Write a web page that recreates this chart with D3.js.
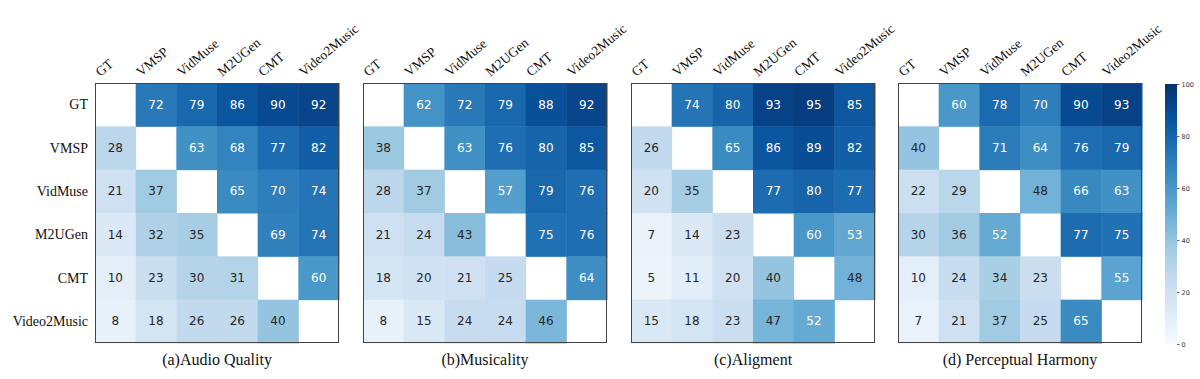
<!DOCTYPE html>
<html>
<head>
<meta charset="utf-8">
<script src="https://cdn.jsdelivr.net/npm/d3@7"></script>
<style>
  html, body { margin: 0; padding: 0; background: #fff; }
  svg { display: block; }
</style>
</head>
<body>
<svg id="chart" width="1200" height="379"></svg>
<script>
// ---- Data ----
const categories = ["GT", "VMSP", "VidMuse", "M2UGen", "CMT", "Video2Music"];
const panelTitles = ["(a)Audio Quality", "(b)Musicality", "(c)Aligment", "(d) Perceptual Harmony"];

const audioQuality = [
  [null, 72, 79, 86, 90, 92],
  [28, null, 63, 68, 77, 82],
  [21, 37, null, 65, 70, 74],
  [14, 32, 35, null, 69, 74],
  [10, 23, 30, 31, null, 60],
  [8, 18, 26, 26, 40, null]
];
const musicality = [
  [null, 62, 72, 79, 88, 92],
  [38, null, 63, 76, 80, 85],
  [28, 37, null, 57, 79, 76],
  [21, 24, 43, null, 75, 76],
  [18, 20, 21, 25, null, 64],
  [8, 15, 24, 24, 46, null]
];
const alignment = [
  [null, 74, 80, 93, 95, 85],
  [26, null, 65, 86, 89, 82],
  [20, 35, null, 77, 80, 77],
  [7, 14, 23, null, 60, 53],
  [5, 11, 20, 40, null, 48],
  [15, 18, 23, 47, 52, null]
];
const harmony = [
  [null, 60, 78, 70, 90, 93],
  [40, null, 71, 64, 76, 79],
  [22, 29, null, 48, 66, 63],
  [30, 36, 52, null, 77, 75],
  [10, 24, 34, 23, null, 55],
  [7, 21, 37, 25, 65, null]
];
const colorbarTicks = [0, 20, 40, 60, 80, 100];

const panels = [audioQuality, musicality, alignment, harmony];

// ---- Layout ----
const svg = d3.select("#chart");
const panelX = [95, 363, 631, 898];
const panelW = 244;
const plotTop = 83, plotBottom = 343;

// matplotlib-like Blues (linear segments between ColorBrewer stops)
const bluesStops = ["#f7fbff","#deebf7","#c6dbef","#9ecae1","#6baed6","#4292c6","#2171b5","#08519c","#08306b"];
const color = d3.scaleLinear()
  .domain(d3.range(9).map(i => i * 100 / 8))
  .range(bluesStops)
  .interpolate(d3.interpolateRgb)
  .clamp(true);

const y = d3.scaleBand().domain(categories).range([plotTop, plotBottom]);

panels.forEach((mat, pi) => {
  const x = d3.scaleBand().domain(categories).range([panelX[pi], panelX[pi] + panelW]);
  const g = svg.append("g");
  const cells = [];
  mat.forEach((row, ri) => row.forEach((v, ci) => {
    if (v !== null) cells.push({ r: categories[ri], c: categories[ci], v });
  }));

  g.selectAll("rect.cell").data(cells).enter().append("rect")
    .attr("x", d => x(d.c))
    .attr("y", d => y(d.r))
    .attr("width", x.bandwidth() + 0.5)
    .attr("height", y.bandwidth() + 0.5)
    .attr("fill", d => color(d.v));

  g.selectAll("text.val").data(cells).enter().append("text")
    .attr("x", d => x(d.c) + x.bandwidth() / 2)
    .attr("y", d => y(d.r) + y.bandwidth() / 2)
    .attr("text-anchor", "middle")
    .attr("dominant-baseline", "central")
    .attr("font-family", "DejaVu Sans, sans-serif")
    .attr("font-size", 12)
    .attr("fill", d => d.v >= 50 ? "#ffffff" : "#262626")
    .text(d => d.v);

  // frame
  g.append("rect")
    .attr("x", panelX[pi] + 0.5)
    .attr("y", plotTop + 0.5)
    .attr("width", panelW - 1)
    .attr("height", plotBottom - plotTop - 1)
    .attr("fill", "none")
    .attr("stroke", "#444")
    .attr("stroke-width", 1);

  // top column labels (rotated)
  g.selectAll("text.col").data(categories).enter().append("text")
    .attr("transform", d => `translate(${x(d) + x.bandwidth() / 2 - 15},77) rotate(-40)`)
    .attr("font-family", "Liberation Serif, Times New Roman, serif")
    .attr("font-size", 13.5)
    .attr("fill", "#111")
    .text(d => d);

  // row labels (first panel only)
  if (pi === 0) {
    g.selectAll("text.row").data(categories).enter().append("text")
      .attr("x", panelX[pi] - 7)
      .attr("y", d => y(d) + y.bandwidth() / 2)
      .attr("text-anchor", "end")
      .attr("dominant-baseline", "central")
      .attr("font-family", "Liberation Serif, Times New Roman, serif")
      .attr("font-size", 14)
      .attr("fill", "#111")
      .text(d => d);
  }

  // subtitle
  g.append("text")
    .attr("x", panelX[pi] + panelW / 2)
    .attr("y", 365)
    .attr("text-anchor", "middle")
    .attr("font-family", "Liberation Serif, Times New Roman, serif")
    .attr("font-size", 16)
    .attr("fill", "#111")
    .text(panelTitles[pi]);
});

// ---- Colorbar ----
const cbX = 1165, cbW = 12, cbTop = 84, cbBottom = 344;
const defs = svg.append("defs");
const grad = defs.append("linearGradient")
  .attr("id", "cbgrad").attr("x1", 0).attr("y1", 1).attr("x2", 0).attr("y2", 0);
bluesStops.forEach((c, i) => {
  grad.append("stop").attr("offset", i / 8).attr("stop-color", c);
});
svg.append("rect")
  .attr("x", cbX).attr("y", cbTop)
  .attr("width", cbW).attr("height", cbBottom - cbTop)
  .attr("fill", "url(#cbgrad)");

const cbScale = d3.scaleLinear().domain([0, 100]).range([cbBottom, cbTop]);
const cbAxis = d3.axisRight(cbScale).tickValues(colorbarTicks).tickSize(2.5).tickPadding(2);
const cbG = svg.append("g")
  .attr("transform", `translate(${cbX + cbW},0)`)
  .call(cbAxis);
cbG.select(".domain").remove();
cbG.selectAll(".tick line").attr("stroke", "#444").attr("stroke-width", 0.8);
cbG.selectAll(".tick text")
  .attr("font-family", "DejaVu Sans, sans-serif")
  .attr("font-size", 6.5)
  .attr("fill", "#333");
</script>
</body>
</html>
